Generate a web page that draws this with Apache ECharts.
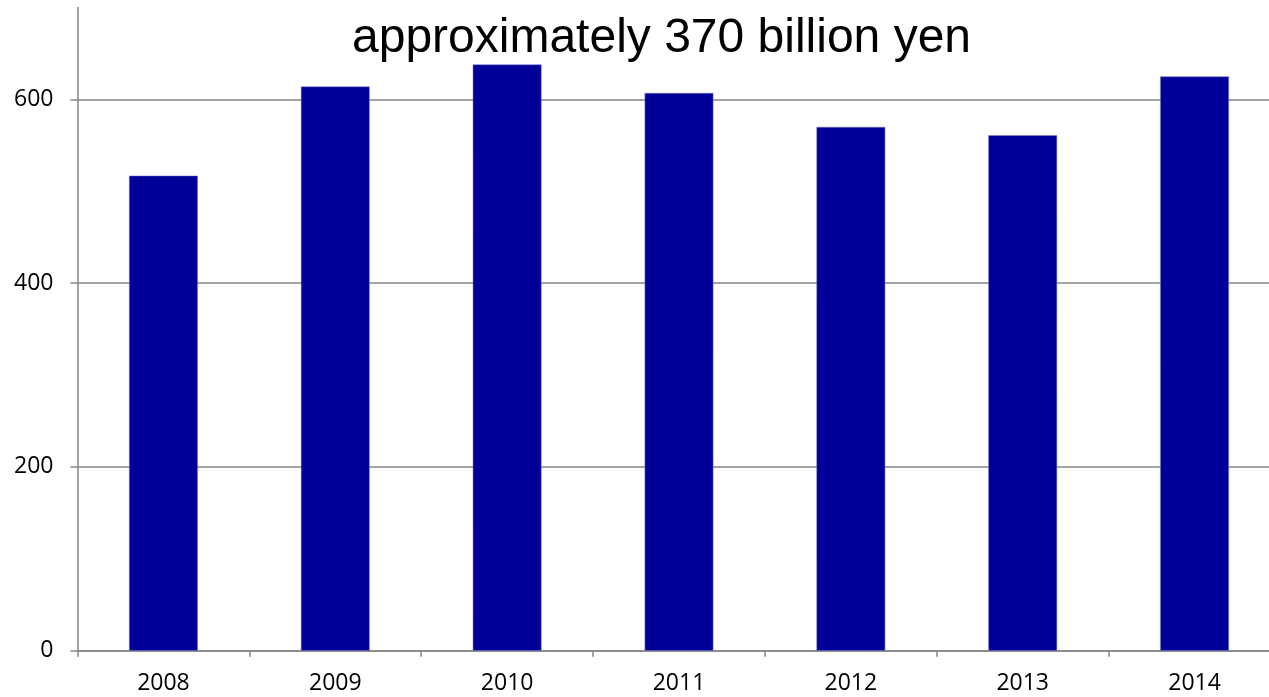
<!DOCTYPE html>
<html>
<head>
<meta charset="utf-8">
<script src="https://cdn.jsdelivr.net/npm/echarts@6/dist/echarts.min.js"></script>
<style>html,body{margin:0;padding:0;background:#fff}#c{width:1269px;height:697px}</style>
</head>
<body>
<div id="c"></div>
<script>
const categories = ['2008','2009','2010','2011','2012','2013','2014'];
const values = [517, 614, 638, 607, 570, 561, 625];
const yTicks = [0, 200, 400, 600];
const titleText = 'approximately 370 billion yen';

const chart = echarts.init(document.getElementById('c'));
chart.setOption({
  animation: false,
  title: {
    text: titleText,
    left: 347,
    top: 10,
    textStyle: {fontFamily: 'Liberation Sans', fontSize: 48, fontWeight: 'normal', color: '#000'}
  },
  grid: {left: 77.5, width: 1203, top: 7.5, bottom: 46.3, containLabel: false, outerBoundsMode: 'none'},
  xAxis: {
    type: 'category',
    data: categories,
    axisLine: {lineStyle: {color: '#868686', width: 1.5}},
    axisTick: {show: true, length: 6, lineStyle: {color: '#868686', width: 1.5}},
    axisLabel: {fontFamily: 'Open Sans', fontSize: 23, color: '#000', margin: 21}
  },
  yAxis: {
    type: 'value',
    min: 0, max: 700, interval: 200,
    axisLine: {show: true, lineStyle: {color: '#868686', width: 1.5}},
    axisTick: {show: true, length: 7, lineStyle: {color: '#868686', width: 1.5}},
    axisLabel: {fontFamily: 'Open Sans', fontSize: 23, color: '#000', margin: 24,
      formatter: v => yTicks.includes(v) ? String(v) : '', showMaxLabel: false},
    splitLine: {show: true, showMaxLine: false, lineStyle: {color: '#868686', width: 1.5}}
  },
  series: [{
    type: 'bar',
    data: values,
    barWidth: '40%',
    itemStyle: {color: '#000099', borderColor: '#7a7acc', borderWidth: 0.5}
  }]
});
</script>
</body>
</html>
